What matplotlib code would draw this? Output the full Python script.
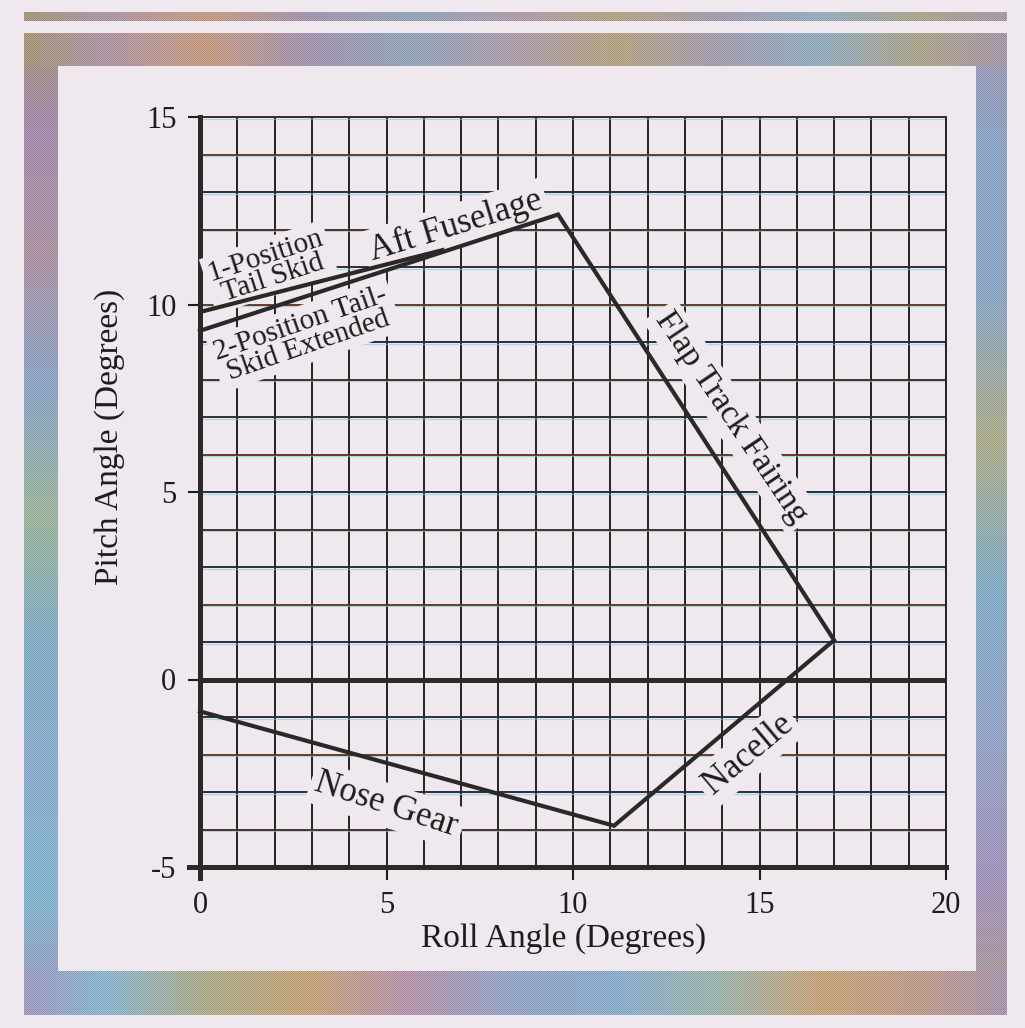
import numpy as np
import matplotlib
matplotlib.use("Agg")
import matplotlib.pyplot as plt
from matplotlib.transforms import offset_copy

# --- data ---
roll_ticks = [0, 5, 10, 15, 20]
pitch_ticks = [-5, 0, 5, 10, 15]

# main clearance envelope: tail skid extended -> aft fuselage peak -> flap track -> nacelle -> nose gear
envelope_roll = [0.0, 9.6, 17.0, 11.1, 0.0]
envelope_pitch = [9.3, 12.4, 1.05, -3.9, -0.85]

# 1-position tail skid branch (joins aft fuselage line)
skid1_roll = [0.0, 6.5]
skid1_pitch = [9.8, 11.45]

labels = ["Aft Fuselage", "1-Position\nTail Skid", "2-Position Tail-\nSkid Extended",
          "Flap Track Fairing", "Nacelle", "Nose Gear"]
label_roll = [6.85, 1.85, 2.8, 14.25, 14.7, 5.0]
label_pitch = [12.1, 11.0, 9.2, 7.0, -2.0, -3.35]
label_rot = [17, 18, 19, -56, 40, -18]
label_size = [25, 21, 21, 24, 25, 25]

PAGE = "#efe8ee"

plt.rcParams["font.family"] = ["Liberation Serif", "DejaVu Serif"]
plt.rcParams["axes.unicode_minus"] = False

W, H = 1025, 1028
fig = plt.figure(figsize=(W / 100, H / 100), dpi=100)
fig.patch.set_facecolor(PAGE)

# --- decorative halftone frame ---
def _hex(c):
    c = c.lstrip("#")
    return np.array([int(c[i:i + 2], 16) for i in (0, 2, 4)], dtype=float)


def _ramp(n, stops):
    pos = np.linspace(0, n - 1, len(stops))
    cols = np.array([_hex(s) for s in stops])
    idx = np.arange(n)
    return np.stack([np.interp(idx, pos, cols[:, k]) for k in range(3)], axis=1)


img = np.tile(_hex(PAGE), (H, W, 1))
top_c = _ramp(W, ["#a89a72", "#b09aa8", "#c8a088", "#a898b2", "#98a8bc", "#b0a0b0",
                  "#b8a888", "#a8a0b2", "#98b0c2", "#b0a890", "#a898b2"])
bot_c = _ramp(W, ["#a898c0", "#90b8d0", "#b0b090", "#c8a880", "#b898b0", "#98a8c8",
                  "#90b0d0", "#a0b8b0", "#c8a880", "#c0a090", "#a898b8"])
left_c = _ramp(H, ["#a89a72", "#a890b0", "#b098a8", "#90a8c8", "#a0b8a0", "#88b0c8",
                   "#90b0d0", "#88b8d0", "#a898c0"])
right_c = _ramp(H, ["#a898b2", "#90a8c8", "#90aac8", "#b0b090", "#88b0c8", "#98a8c8",
                    "#a898c0", "#b0a090"])
ox0, ox1, oy0, oy1 = 24, 1007, 33, 1015
ix0, ix1, iy0, iy1 = 58, 976, 66, 971
img[12:21, ox0:ox1] = top_c[ox0:ox1]
img[oy0:iy0, ox0:ox1] = top_c[ox0:ox1]
img[iy1:oy1, ox0:ox1] = bot_c[ox0:ox1]
img[iy0:iy1, ox0:ix0] = left_c[iy0:iy1, None, :]
img[iy0:iy1, ix1:ox1] = right_c[iy0:iy1, None, :]
mask = np.zeros((H, W), bool)
mask[12:21, ox0:ox1] = True
mask[oy0:oy1, ox0:ox1] = True
mask[iy0:iy1, ix0:ix1] = False
yy, xx = np.mgrid[0:H, 0:W]
checker = np.where((xx + yy) % 2 == 0, -16.0, 10.0)
img[mask] = img[mask] + checker[mask][:, None]
img = np.clip(img, 0, 255) / 255.0

bg = fig.add_axes([0, 0, 1, 1], zorder=-1)
bg.imshow(img, interpolation="nearest", aspect="auto")
bg.axis("off")

# --- chart ---
ax = fig.add_axes([200 / W, 1 - 867 / H, 746 / W, 750 / H])
ax.set_facecolor("none")
ax.set_xlim(0, 20)
ax.set_ylim(-5, 15)

for gx in range(1, 21):
    ax.axvline(gx, color="#262222", lw=1.4, zorder=1)
shadow = offset_copy(ax.transData, fig=fig, x=0, y=-1.6, units="dots")
hcols = ["#5a2a22", "#2c2c3e", "#6a3a24", "#3a2a30"]
for gy in range(-4, 16):
    if gy == 0:
        continue
    ax.hlines(gy, 0, 20, color="#6fd0e8", lw=0.9, alpha=0.6, zorder=1, transform=shadow)
    ax.hlines(gy, 0, 20, color=hcols[gy % len(hcols)], lw=1.4, zorder=1.2)
ax.hlines(0, 0, 20, color="#2e2a2a", lw=3.6, zorder=1.5)

ax.plot(envelope_roll, envelope_pitch, color="#2b2828", lw=3.0, zorder=5,
        solid_joinstyle="miter", clip_on=False)
ax.plot(skid1_roll, skid1_pitch, color="#2b2828", lw=3.0, zorder=5)

for txt, xr, yp, rot, fs in zip(labels, label_roll, label_pitch, label_rot, label_size):
    ax.text(xr, yp, txt, rotation=rot, fontsize=fs, ha="center", va="center",
            rotation_mode="anchor", color="#1e1c1c", linespacing=0.85, zorder=4,
            bbox=dict(boxstyle="square,pad=0.15", facecolor=PAGE, edgecolor="none"))

ax.set_xticks(roll_ticks)
ax.set_yticks(pitch_ticks)
ax.tick_params(direction="out", length=9, width=1.5, pad=8, labelsize=22,
               colors="#1e1c1c")

for side in ("left", "bottom"):
    ax.spines[side].set_linewidth(3.6)
    ax.spines[side].set_color("#2b2828")
ax.spines["left"].set_bounds(-5.28, 15)
ax.spines["bottom"].set_bounds(-0.3, 20)
ax.spines["top"].set_linewidth(1.4)
ax.spines["top"].set_color("#4a2626")
ax.spines["right"].set_linewidth(1.4)
ax.spines["right"].set_color("#262222")

ax.set_xlabel("Roll Angle (Degrees)", fontsize=24, color="#1e1c1c")
ax.set_ylabel("Pitch Angle (Degrees)", fontsize=24, color="#1e1c1c")
ax.xaxis.set_label_coords(0.487, -0.075)
ax.yaxis.set_label_coords(-0.101, 0.573)

fig.savefig("out.png", dpi=100, facecolor=PAGE)
